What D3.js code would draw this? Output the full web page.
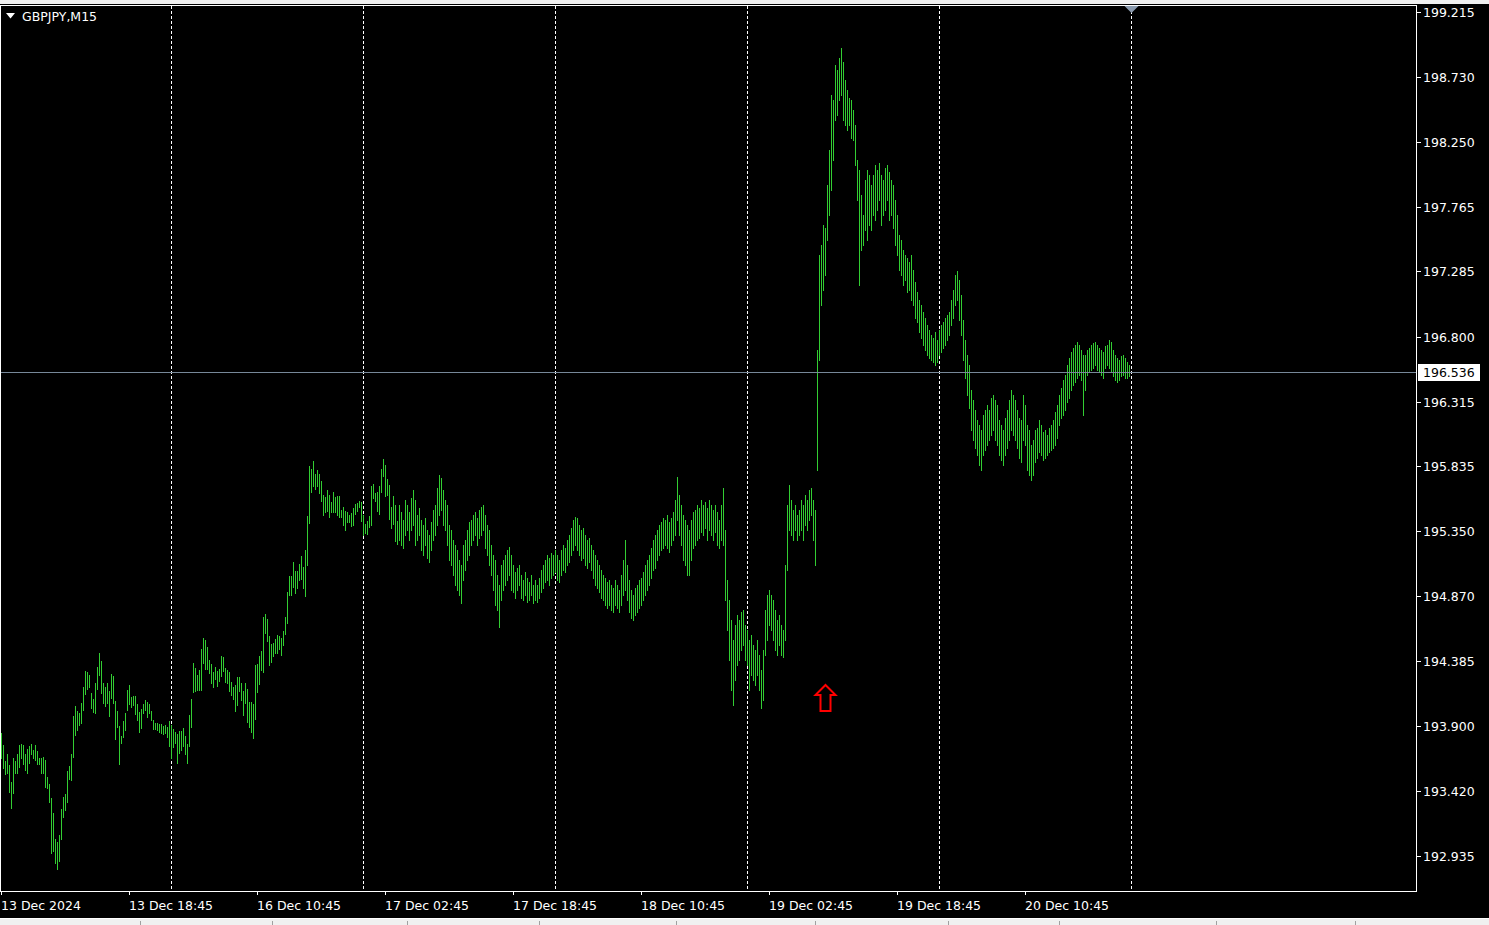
<!DOCTYPE html>
<html><head><meta charset="utf-8">
<script src="https://cdn.jsdelivr.net/npm/d3@7"></script>
<style>html,body{margin:0;padding:0;background:#000;overflow:hidden}</style>
</head><body><svg id="c" width="1489" height="925"></svg>
<script>
const symbolTitle = "GBPJPY,M15";
const highs = [193.849,193.760,193.641,193.693,193.611,193.484,193.663,193.641,193.693,193.760,
193.767,193.760,193.693,193.730,193.752,193.767,193.723,193.760,193.715,193.663,
193.663,193.671,193.648,193.522,193.470,193.365,193.253,193.060,193.037,193.089,
193.283,193.373,193.395,193.566,193.604,193.693,193.976,194.050,194.013,193.998,
194.073,194.191,194.310,194.303,194.281,194.147,194.102,194.221,194.340,194.444,
194.385,194.221,194.191,194.221,194.161,194.288,194.273,194.088,194.013,193.901,
193.827,193.939,193.998,194.169,194.206,194.117,194.124,194.124,194.065,194.006,
194.028,194.065,194.095,194.080,194.065,194.013,193.946,193.924,193.924,193.916,
193.916,193.901,193.909,193.894,193.939,193.909,193.879,193.857,193.842,193.864,
193.864,193.887,193.827,193.767,193.983,194.102,194.370,194.333,194.281,194.318,
194.474,194.556,194.541,194.489,194.392,194.362,194.303,194.340,194.310,194.325,
194.422,194.415,194.333,194.318,194.303,194.228,194.191,194.206,194.266,194.266,
194.221,194.161,194.221,194.176,194.080,194.080,194.065,194.355,194.362,194.422,
194.459,194.712,194.735,194.698,194.571,194.511,194.519,194.549,194.578,194.571,
194.556,194.608,194.712,194.899,195.018,195.018,195.122,195.055,195.055,195.107,
195.167,195.085,195.212,195.465,195.838,195.815,195.875,195.778,195.808,195.778,
195.726,195.622,195.607,195.659,195.622,195.569,195.644,195.607,195.614,195.614,
195.510,195.532,195.502,195.495,195.472,195.487,195.524,195.554,195.562,195.577,
195.569,195.472,195.405,195.428,195.465,195.689,195.704,195.637,195.644,195.689,
195.815,195.890,195.845,195.741,195.696,195.532,195.614,195.547,195.428,
195.547,195.495,195.435,195.584,195.547,195.495,195.599,195.659,195.584,195.472,
195.524,195.435,195.398,195.450,195.361,195.323,195.420,195.510,195.547,195.674,
195.771,195.748,195.659,195.584,195.547,195.398,195.361,195.286,195.249,195.212,
195.137,195.100,195.249,195.286,195.361,195.420,195.435,195.472,195.495,195.450,
195.510,195.532,195.547,195.472,195.398,195.361,195.249,195.174,195.137,195.026,
194.951,195.100,195.137,195.174,195.212,195.234,195.174,195.100,195.048,195.078,
195.100,195.026,194.988,195.048,195.003,194.973,195.026,194.951,194.988,194.951,
195.003,195.063,195.100,195.137,195.174,195.152,195.189,195.174,195.212,195.174,
195.137,195.212,195.249,195.227,195.286,195.323,195.376,195.435,195.457,195.450,
195.398,195.361,195.376,195.323,195.286,195.301,195.249,195.212,195.174,195.137,
195.100,195.063,195.026,195.003,194.973,194.988,194.951,194.929,194.988,194.951,
194.914,195.026,195.137,195.286,195.100,194.988,194.914,194.877,194.929,194.951,
194.988,195.003,195.048,195.100,195.137,195.174,195.227,195.286,195.323,195.361,
195.398,195.420,195.450,195.435,195.472,195.420,195.450,195.495,195.584,195.756,
195.622,195.547,195.472,195.435,195.398,195.361,195.435,195.495,195.510,195.547,
195.524,195.584,195.547,195.569,195.524,195.584,195.547,195.510,195.547,195.495,
195.435,195.547,195.674,195.361,194.988,194.839,194.690,194.541,194.653,194.727,
194.690,194.750,194.765,194.653,194.616,194.541,194.578,194.504,194.467,194.541,
194.429,194.318,194.467,194.765,194.877,194.914,194.877,194.839,194.765,194.690,
194.727,194.653,194.616,195.100,195.547,195.696,195.584,195.510,195.547,195.472,
195.510,195.584,195.547,195.622,195.584,195.659,195.674,195.584,195.510,196.701,
197.408,197.483,197.632,197.610,197.929,198.190,198.600,198.562,198.823,198.786,
198.875,198.950,198.845,198.711,198.637,198.577,198.562,198.488,198.376,198.115,
198.041,197.855,197.706,197.966,198.041,198.004,197.929,198.004,198.078,198.041,
198.093,198.004,197.966,198.056,198.078,198.026,197.966,197.929,197.818,197.706,
197.557,197.520,197.446,197.408,197.386,197.356,197.408,197.297,197.207,197.133,
197.073,197.036,196.984,196.939,196.887,196.850,196.812,196.790,196.835,196.775,
196.850,196.887,196.909,196.939,196.961,196.984,197.073,197.148,197.260,197.289,
197.222,197.111,196.924,196.775,196.663,196.589,196.403,196.329,196.255,196.180,
196.143,196.106,196.217,196.255,196.292,196.255,196.343,196.366,196.329,196.292,
196.180,196.143,196.106,196.195,196.255,196.329,196.403,196.366,196.329,196.255,
196.195,196.180,196.366,196.292,196.143,196.106,195.994,196.031,196.106,196.121,
196.180,196.143,196.091,196.106,196.068,196.121,196.143,196.180,196.240,196.292,
196.366,196.418,196.478,196.515,196.589,196.641,196.685,196.716,196.738,196.760,
196.738,196.701,196.663,196.663,196.701,196.716,196.738,196.753,196.760,196.738,
196.716,196.701,196.685,196.730,196.738,196.775,196.760,196.701,196.663,196.641,
196.626,196.656,196.663,196.641,196.611,196.589];
const lows = [193.663,193.589,193.544,193.551,193.410,193.290,193.403,193.551,193.551,193.596,
193.663,193.618,193.574,193.551,193.626,193.693,193.663,193.648,193.618,193.618,
193.551,193.551,193.447,193.440,193.335,192.955,192.970,192.881,192.836,192.896,
193.060,193.223,193.276,193.335,193.507,193.499,193.671,193.834,193.872,193.909,
193.924,194.021,194.139,194.176,194.191,194.035,194.006,193.998,194.176,194.281,
194.147,194.073,194.050,194.073,193.976,194.109,194.073,193.805,193.894,193.618,
193.775,193.819,193.872,194.021,194.065,194.043,194.058,193.991,193.946,193.857,
193.887,193.998,194.021,193.968,193.998,193.946,193.879,193.879,193.872,193.857,
193.849,193.842,193.849,193.819,193.752,193.663,193.745,193.775,193.626,193.700,
193.723,193.752,193.693,193.626,193.752,193.894,194.154,194.161,194.169,194.169,
194.169,194.370,194.325,194.325,194.295,194.221,194.191,194.251,194.199,194.236,
194.273,194.310,194.228,194.221,194.161,194.132,194.102,194.013,194.058,194.161,
194.095,193.983,194.073,193.931,193.894,193.857,193.812,193.954,194.154,194.214,
194.318,194.303,194.593,194.534,194.355,194.377,194.422,194.444,194.444,194.474,
194.429,194.504,194.586,194.668,194.877,194.877,194.936,194.892,194.929,194.988,
194.996,194.929,194.869,195.100,195.413,195.644,195.689,195.666,195.689,195.637,
195.577,195.472,195.495,195.502,195.457,195.495,195.495,195.495,195.472,195.457,
195.457,195.398,195.361,195.420,195.420,195.390,195.398,195.480,195.502,195.532,
195.428,195.323,195.338,195.331,195.383,195.398,195.599,195.577,195.502,195.480,
195.644,195.763,195.614,195.622,195.443,195.376,195.405,195.279,195.256,
195.286,195.249,195.227,195.323,195.361,195.286,195.361,195.398,195.249,195.286,
195.323,195.212,195.174,195.249,195.152,195.122,195.212,195.286,195.323,195.398,
195.472,195.510,195.398,195.361,195.249,195.137,195.100,195.026,194.951,194.914,
194.877,194.817,194.988,195.063,195.137,195.174,195.249,195.286,195.323,195.249,
195.301,195.323,195.361,195.227,195.174,195.100,195.026,194.914,194.802,194.765,
194.638,194.839,194.914,194.951,194.988,195.026,194.914,194.899,194.854,194.914,
194.951,194.854,194.839,194.877,194.824,194.839,194.877,194.817,194.839,194.824,
194.854,194.899,194.929,194.973,194.988,194.951,195.003,195.026,195.048,194.988,
194.973,195.026,195.063,195.048,195.100,195.122,195.174,195.212,195.249,195.212,
195.174,195.137,195.152,195.100,195.078,195.122,195.063,195.003,194.951,194.929,
194.899,194.854,194.839,194.802,194.779,194.802,194.765,194.750,194.802,194.779,
194.750,194.802,194.877,194.914,194.839,194.750,194.705,194.690,194.727,194.750,
194.779,194.802,194.839,194.877,194.914,194.951,195.003,195.063,195.078,195.137,
195.174,195.212,195.227,195.249,195.227,195.197,195.249,195.286,195.323,195.435,
195.323,195.249,195.137,195.100,195.026,195.026,195.137,195.227,195.249,195.286,
195.301,195.346,195.323,195.376,195.286,195.361,195.323,195.286,195.346,195.249,
195.227,195.286,195.249,194.839,194.616,194.392,194.169,194.058,194.243,194.355,
194.392,194.467,194.504,194.392,194.355,194.169,194.281,194.243,194.206,194.281,
194.169,194.035,194.095,194.429,194.541,194.653,194.616,194.541,194.467,194.429,
194.504,194.429,194.415,194.541,195.063,195.361,195.323,195.286,195.361,195.286,
195.323,195.361,195.286,195.398,195.361,195.435,195.472,195.286,195.100,195.808,
196.626,197.036,197.148,197.260,197.520,197.706,197.892,198.115,198.413,198.450,
198.562,198.600,198.413,198.376,198.339,198.376,198.279,198.264,198.078,197.818,
197.185,197.446,197.483,197.595,197.520,197.632,197.595,197.706,197.669,197.744,
197.818,197.632,197.706,197.744,197.818,197.669,197.706,197.610,197.483,197.408,
197.297,197.260,197.185,197.222,197.133,197.148,197.073,197.036,196.939,196.909,
196.835,196.790,196.738,196.701,196.663,196.641,196.626,196.611,196.589,196.611,
196.663,196.685,196.716,196.738,196.775,196.812,196.887,196.939,197.036,197.073,
196.924,196.812,196.626,196.492,196.366,196.269,196.106,196.031,195.972,195.919,
195.845,195.808,195.919,195.957,195.994,196.031,196.068,196.106,196.031,195.994,
195.919,195.882,195.845,195.919,195.972,196.031,196.106,196.068,196.031,195.972,
195.897,195.867,196.031,195.994,195.808,195.771,195.733,195.771,195.867,195.897,
195.942,195.919,195.882,195.897,195.919,195.942,195.957,195.972,195.994,196.046,
196.143,196.195,196.217,196.255,196.314,196.343,196.403,196.440,196.462,196.492,
196.515,196.478,196.217,196.403,196.515,196.537,196.552,196.567,196.589,196.552,
196.537,196.515,196.492,196.567,196.589,196.567,196.537,196.507,196.478,196.462,
196.478,196.507,196.515,196.492,196.492,196.507];
const xTickIndex = [0,64,128,192,256,320,384,448,512];
const xTickLabels = ["13 Dec 2024","13 Dec 18:45","16 Dec 10:45","17 Dec 02:45","17 Dec 18:45","18 Dec 10:45","19 Dec 02:45","19 Dec 18:45","20 Dec 10:45"];
const separatorIndex = [85,181,277,373,469,565];
const yTickValues = [199.215,198.730,198.250,197.765,197.285,196.800,196.315,195.835,195.350,194.870,194.385,193.900,193.420,192.935];
const bidPrice = 196.536;
const arrowIndex = 412;
const arrowPrice = 194.206;
const lastIndex = 565;

const svg = d3.select("#c");
const W = 1489, H = 925;
const plotL = 0, plotR = 1416, plotT = 5, plotB = 891;
const barColor = "#32cd32";
const font = "'DejaVu Sans', sans-serif";

const x = d3.scaleLinear().domain([0, lastIndex]).range([1, 1 + 2 * lastIndex]);
const y = d3.scaleLinear().domain([192.935, 199.215]).range([855.7, 12.3]);

svg.append("rect").attr("width", W).attr("height", H).attr("fill", "#000");
svg.append("rect").attr("x", 0).attr("y", 0).attr("width", W).attr("height", 4).attr("fill", "#f0f0f0");
svg.append("rect").attr("x", 0).attr("y", 918).attr("width", W).attr("height", 7).attr("fill", "#f0f0f0");
svg.append("line").attr("x1", 0).attr("x2", W).attr("y1", 918.5).attr("y2", 918.5).attr("stroke", "#ffffff");
const statusSeps = [140, 272, 407, 539, 676, 815, 948, 1059, 1216, 1355];
svg.selectAll(".ss").data(statusSeps).enter().append("line")
  .attr("x1", d => d + 0.5).attr("x2", d => d + 0.5).attr("y1", 921).attr("y2", 925)
  .attr("stroke", "#a0a0a0");

svg.selectAll(".sep").data(separatorIndex).enter().append("line")
  .attr("x1", d => Math.round(x(d)) + 0.5).attr("x2", d => Math.round(x(d)) + 0.5)
  .attr("y1", plotT + 1).attr("y2", plotB)
  .attr("stroke", "#ffffff").attr("stroke-dasharray", "3,2");

const bars = highs.map((h, i) => ({ i, h, l: lows[i] }));
svg.append("g").selectAll("rect").data(bars).enter().append("rect")
  .attr("x", d => Math.round(x(d.i)))
  .attr("y", d => Math.round(y(d.h)))
  .attr("width", 1)
  .attr("height", d => Math.max(1, Math.round(y(d.l)) - Math.round(y(d.h)) + 1))
  .attr("fill", barColor);

const by = Math.round(y(bidPrice)) + 0.5;
svg.append("line").attr("x1", plotL).attr("x2", plotR).attr("y1", by).attr("y2", by).attr("stroke", "#778899");

svg.append("rect").attr("x", plotL + 0.5).attr("y", plotT + 0.5).attr("width", plotR - plotL).attr("height", plotB - plotT)
  .attr("fill", "none").attr("stroke", "#ffffff");

svg.selectAll(".yt").data(yTickValues).enter().append("line")
  .attr("x1", plotR + 1).attr("x2", plotR + 5)
  .attr("y1", d => Math.round(y(d)) + 0.5).attr("y2", d => Math.round(y(d)) + 0.5)
  .attr("stroke", "#ffffff");
svg.selectAll(".yl").data(yTickValues).enter().append("text")
  .attr("x", 1423).attr("y", d => Math.round(y(d)) + 5)
  .attr("fill", "#ffffff").attr("font-family", font).attr("font-size", "12.5px")
  .text(d => d.toFixed(3));

svg.append("rect").attr("x", 1418).attr("y", by - 8.5).attr("width", 62).attr("height", 17).attr("fill", "#ffffff");
svg.append("text").attr("x", 1423).attr("y", by + 4.5).attr("fill", "#000")
  .attr("font-family", font).attr("font-size", "12.5px").text(bidPrice.toFixed(3));

svg.selectAll(".xt").data(xTickIndex).enter().append("line")
  .attr("x1", d => Math.round(x(d)) + 0.5).attr("x2", d => Math.round(x(d)) + 0.5)
  .attr("y1", plotB).attr("y2", plotB + 4).attr("stroke", "#ffffff");
svg.selectAll(".xl").data(xTickIndex).enter().append("text")
  .attr("x", d => Math.round(x(d)))
  .attr("y", 909.5)
  .attr("fill", "#ffffff").attr("font-family", font).attr("font-size", "12.5px")
  .text((d, k) => xTickLabels[k]);

svg.append("path").attr("d", "M6,13 L15,13 L10.5,18.5 Z").attr("fill", "#ffffff");
svg.append("text").attr("x", 22).attr("y", 21).attr("fill", "#ffffff")
  .attr("font-family", font).attr("font-size", "12.5px").text(symbolTitle);

const sx = Math.round(x(lastIndex)) + 0.5;
svg.append("path").attr("d", `M${sx - 7},6 L${sx + 7},6 L${sx},13 Z`).attr("fill", "#8a9aae");

const ax = Math.round(x(arrowIndex)) + 0.5, ay = Math.round(y(arrowPrice));
svg.append("path")
  .attr("d", `M${ax},${ay} L${ax + 10},${ay + 10} L${ax + 5},${ay + 10} L${ax + 5},${ay + 26} L${ax - 5},${ay + 26} L${ax - 5},${ay + 10} L${ax - 10},${ay + 10} Z`)
  .attr("fill", "none").attr("stroke", "#ff0000").attr("stroke-width", 2);
</script></body></html>
